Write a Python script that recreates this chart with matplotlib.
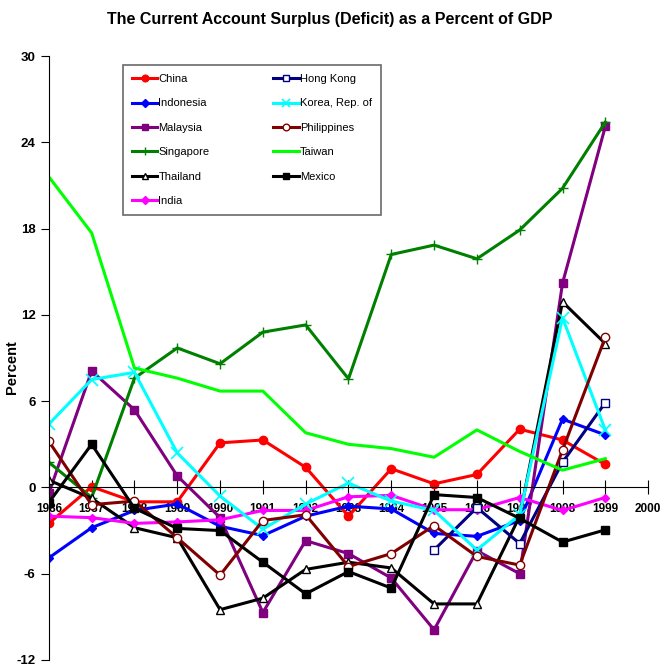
import matplotlib
matplotlib.use('Agg')
import matplotlib.pyplot as plt

plt.rcParams['font.family'] = ['Liberation Sans Narrow', 'Liberation Sans', 'DejaVu Sans']
plt.rcParams['axes.unicode_minus'] = False

years = list(range(1986, 2000))

china = [-2.5, 0.05, -1.0, -1.0, 3.1, 3.3, 1.4, -2.0, 1.3, 0.25, 0.9, 4.05, 3.3, 1.6]
indonesia = [-4.9, -2.8, -1.6, -1.15, -2.7, -3.35, -2.0, -1.3, -1.5, -3.2, -3.4, -2.3, 4.75, 3.65]
malaysia = [-0.4, 8.1, 5.4, 0.8, -2.1, -8.7, -3.7, -4.6, -6.3, -9.9, -4.4, -6.0, 14.2, 25.1]
singapore = [1.75, -0.7, 7.6, 9.7, 8.6, 10.8, 11.3, 7.55, 16.2, 16.85, 15.9, 17.9, 20.8, 25.4]
thailand = [0.5, -0.75, -2.8, -3.5, -8.5, -7.7, -5.7, -5.2, -5.6, -8.1, -8.1, -2.0, 12.9, 10.0]
india = [-2.0, -2.1, -2.5, -2.4, -2.25, -1.6, -1.6, -0.65, -0.55, -1.55, -1.55, -0.7, -1.6, -0.7]
hk_years = [1995, 1996, 1997, 1998, 1999]
hong_kong = [-4.35, -1.4, -3.9, 1.75, 5.9]
korea = [4.4, 7.5, 8.0, 2.4, -0.6, -2.9, -1.15, 0.3, -0.95, -1.6, -4.35, -1.9, 11.8, 4.0]
philippines = [3.2, -1.2, -0.95, -3.5, -6.1, -2.3, -1.9, -5.5, -4.6, -2.65, -4.8, -5.4, 2.6, 10.45]
taiwan = [21.6, 17.7, 8.3, 7.6, 6.7, 6.7, 3.8, 3.0, 2.7, 2.1, 4.0, 2.5, 1.2, 2.0]
mexico = [-1.05, 3.0, -1.45, -2.85, -3.0, -5.2, -7.4, -5.85, -7.0, -0.5, -0.7, -2.15, -3.8, -2.95]

fig = plt.figure(figsize=(6.6, 6.67), dpi=100)
ax = fig.add_axes([0.074, 0.0105, 0.908, 0.9055])

lw = 2.2
ax.plot(years, china, color='#FF0000', lw=lw, marker='o', ms=6, label='China')
ax.plot(years, indonesia, color='#0000FF', lw=lw, marker='D', ms=4.5, label='Indonesia')
ax.plot(years, malaysia, color='#800080', lw=lw, marker='s', ms=6, label='Malaysia')
ax.plot(years, singapore, color='#008000', lw=lw, marker='+', ms=7, mew=1, label='Singapore')
ax.plot(years, thailand, color='black', lw=lw, marker='^', ms=6, mfc='white', mew=1, label='Thailand')
ax.plot(years, india, color='#FF00FF', lw=lw, marker='D', ms=4.5, label='India')
ax.plot(hk_years, hong_kong, color='#000080', lw=lw, marker='s', ms=6, mfc='white', mew=1, label='Hong Kong')
ax.plot(years, korea, color='#00FFFF', lw=lw, marker='x', ms=8, mew=1.2, label='Korea, Rep. of')
ax.plot(years, philippines, color='#800000', lw=lw, marker='o', ms=6, mfc='white', mew=1, label='Philippines')
ax.plot(years, taiwan, color='#00FF00', lw=lw, label='Taiwan')
ax.plot(years, mexico, color='black', lw=lw, marker='s', ms=6, label='Mexico')

ax.set_xlim(1986, 2000)
ax.set_ylim(-12, 30)
ax.set_yticks(range(-12, 31, 6))
ax.set_xticks(range(1986, 2001))

ax.spines['top'].set_visible(False)
ax.spines['right'].set_visible(False)
ax.spines['bottom'].set_position(('data', 0))
ax.tick_params(axis='x', direction='inout', length=10, pad=6)
ax.tick_params(axis='y', direction='out', length=6)
for lab in ax.get_xticklabels():
    lab.set_fontweight('bold')
    lab.set_fontsize(8.5)
for lab in ax.get_yticklabels():
    lab.set_fontweight('bold')
    lab.set_fontsize(9.5)

ax.set_ylabel('Percent', fontsize=10.5, fontweight='bold')
ax.yaxis.set_label_coords(-0.05, 0.485)
fig.suptitle('The Current Account Surplus (Deficit) as a Percent of GDP',
             fontsize=11.5, fontweight='bold', y=0.982)

leg = ax.legend(ncol=2, loc='upper left', bbox_to_anchor=(0.1235, 0.985, 0.43, 0.0),
                mode='expand', fontsize=8, frameon=True, fancybox=False,
                borderaxespad=0, handlelength=2.3, handletextpad=0.1,
                labelspacing=1.3, borderpad=0.8, markerscale=0.8)
leg.get_frame().set_edgecolor('#444444')
leg.get_frame().set_linewidth(1.2)

fig.savefig('out.png', dpi=100)
